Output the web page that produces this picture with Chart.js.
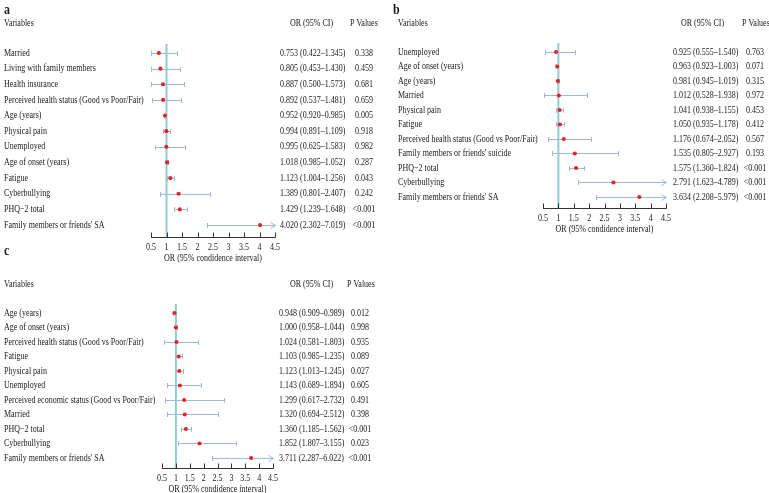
<!DOCTYPE html>
<html>
<head>
<meta charset="utf-8">
<script src="https://cdn.jsdelivr.net/npm/chart.js@4.4.1/dist/chart.umd.min.js"></script>
<style>
  html, body { margin: 0; padding: 0; background: #fff; }
  body { width: 769px; height: 493px; position: relative; overflow: hidden; }
  canvas { position: absolute; }
</style>
</head>
<body>
<canvas id="chartA" width="390" height="263" style="left:0;top:0"></canvas>
<canvas id="chartB" width="379" height="234" style="left:390px;top:0"></canvas>
<canvas id="chartC" width="390" height="253" style="left:0;top:240px"></canvas>
<script>
// shared x axis
const xTicks = [0.5, 1, 1.5, 2, 2.5, 3, 3.5, 4, 4.5]
const xTitle = "OR (95% condidence interval)"

// Panel a
const aVars = ["Married", "Living with family members", "Health insurance", "Perceived health status (Good vs Poor/Fair)", "Age (years)", "Physical pain", "Unemployed", "Age of onset (years)", "Fatigue", "Cyberbullying", "PHQ\u22122 total", "Family members or friends' SA"]
const aOR = [0.753, 0.805, 0.887, 0.892, 0.952, 0.994, 0.995, 1.018, 1.123, 1.389, 1.429, 4.020]
const aLo = [0.422, 0.453, 0.500, 0.537, 0.920, 0.891, 0.625, 0.985, 1.004, 0.801, 1.239, 2.302]
const aHi = [1.345, 1.430, 1.573, 1.481, 0.985, 1.109, 1.583, 1.052, 1.256, 2.407, 1.648, 7.019]
const aP = ["0.338", "0.459", "0.681", "0.659", "0.005", "0.918", "0.982", "0.287", "0.043", "0.242", "<0.001", "<0.001"]

// Panel b
const bVars = ["Unemployed", "Age of onset (years)", "Age (years)", "Married", "Physical pain", "Fatigue", "Perceived health status (Good vs Poor/Fair)", "Family members or friends' suicide", "PHQ\u22122 total", "Cyberbullying", "Family members or friends' SA"]
const bOR = [0.925, 0.963, 0.981, 1.012, 1.041, 1.050, 1.176, 1.535, 1.575, 2.791, 3.634]
const bLo = [0.555, 0.923, 0.945, 0.528, 0.938, 0.935, 0.674, 0.805, 1.360, 1.623, 2.208]
const bHi = [1.540, 1.003, 1.019, 1.938, 1.155, 1.178, 2.052, 2.927, 1.824, 4.789, 5.979]
const bP = ["0.763", "0.071", "0.315", "0.972", "0.453", "0.412", "0.567", "0.193", "<0.001", "<0.001", "<0.001"]

// Panel c
const cVars = ["Age (years)", "Age of onset (years)", "Perceived health status (Good vs Poor/Fair)", "Fatigue", "Physical pain", "Unemployed", "Perceived economic status (Good vs Poor/Fair)", "Married", "PHQ\u22122 total", "Cyberbullying", "Family members or friends' SA"]
const cOR = [0.948, 1.000, 1.024, 1.103, 1.123, 1.143, 1.299, 1.320, 1.360, 1.852, 3.711]
const cLo = [0.909, 0.958, 0.581, 0.985, 1.013, 0.689, 0.617, 0.694, 1.185, 1.087, 2.287]
const cHi = [0.989, 1.044, 1.803, 1.235, 1.245, 1.894, 2.732, 2.512, 1.562, 3.155, 6.022]
const cP = ["0.012", "0.998", "0.935", "0.089", "0.027", "0.605", "0.491", "0.398", "<0.001", "0.023", "<0.001"]
// the printed table shows 1.807 as lower bound for Cyberbullying (the bar is drawn from ~1.09)
const cLoPrinted = cLo.map((v, i) => (i === 9 ? 1.807 : v))

const FONT = "'Liberation Serif', 'Times New Roman', serif"
const TEXT = "#1a1a1a"
const SQUEEZE = 0.8 // the source figure is narrower than its type

const fmt = (v) => v.toFixed(3)

function text(ctx, str, x, y, align) {
  ctx.save()
  ctx.translate(x, y)
  ctx.scale(SQUEEZE, 1)
  ctx.textAlign = align || "left"
  ctx.fillText(str, 0, 0)
  ctx.restore()
}

// draws reference line, whiskers, axis and the text columns
const forestPlugin = {
  id: "forest",
  beforeDatasetsDraw(chart, args, o) {
    const { ctx, chartArea } = chart
    const x = chart.scales.x
    const y = chart.scales.y

    // reference line at OR = 1
    ctx.save()
    ctx.strokeStyle = "#8fcdd3"
    ctx.lineWidth = 2
    ctx.beginPath()
    ctx.moveTo(x.getPixelForValue(1), chartArea.top)
    ctx.lineTo(x.getPixelForValue(1), chartArea.bottom)
    ctx.stroke()

    // confidence intervals
    ctx.strokeStyle = "#9ab9e6"
    ctx.lineWidth = 1
    o.lo.forEach((lo, i) => {
      const py = Math.round(y.getPixelForValue(i)) + 0.5
      const x0 = Math.round(x.getPixelForValue(Math.max(lo, x.min))) + 0.5
      const x1 = Math.round(x.getPixelForValue(Math.min(o.hi[i], x.max))) + 0.5
      ctx.beginPath()
      ctx.moveTo(x0, py)
      ctx.lineTo(x1, py)
      ctx.moveTo(x0, py - 2.5)
      ctx.lineTo(x0, py + 2.5)
      if (o.hi[i] > x.max) {
        ctx.moveTo(x1 - 5, py - 3)
        ctx.lineTo(x1, py)
        ctx.lineTo(x1 - 5, py + 3)
      } else {
        ctx.moveTo(x1, py - 2.5)
        ctx.lineTo(x1, py + 2.5)
      }
      ctx.stroke()
    })

    // axis with upward ticks
    const ay = Math.round(chartArea.bottom) + 0.5
    ctx.strokeStyle = "#333"
    ctx.beginPath()
    ctx.moveTo(chartArea.left, ay)
    ctx.lineTo(chartArea.right + 0.5, ay)
    xTicks.forEach((t) => {
      const px = Math.round(x.getPixelForValue(t)) + 0.5
      ctx.moveTo(px, ay)
      ctx.lineTo(px, ay - 5)
    })
    ctx.stroke()
    ctx.restore()
  },
  afterDraw(chart, args, o) {
    const { ctx, chartArea } = chart
    const x = chart.scales.x
    const y = chart.scales.y
    ctx.save()
    ctx.fillStyle = TEXT

    ctx.font = "bold 15px " + FONT
    ctx.textBaseline = "alphabetic"
    text(ctx, o.letter, o.letterX, o.letterY)

    ctx.font = "10px " + FONT
    ctx.textBaseline = "middle"

    // tick labels and axis title
    xTicks.forEach((t) => {
      text(ctx, String(t), x.getPixelForValue(t), chartArea.bottom + 10, "center")
    })
    text(ctx, xTitle, (chartArea.left + chartArea.right) / 2, chartArea.bottom + 21, "center")

    // headers
    text(ctx, "Variables", o.colVar, o.headY)
    text(ctx, "OR (95% CI)", o.colHeadOR, o.headY)
    text(ctx, "P Values", o.colHeadP, o.headY)

    // rows
    o.vars.forEach((name, i) => {
      const py = y.getPixelForValue(i)
      text(ctx, name, o.colVar, py)
      text(ctx, fmt(o.or[i]) + " (" + fmt(o.loText[i]) + "\u2013" + fmt(o.hi[i]) + ")", o.colOR, py)
      text(ctx, o.p[i], o.colP, py, "center")
    })
    ctx.restore()
  },
}

function makePanel(id, d, layout) {
  return new Chart(document.getElementById(id), {
    type: "scatter",
    data: {
      datasets: [
        {
          data: d.or.map((v, i) => ({ x: v, y: i })),
          backgroundColor: "#e52420",
          borderWidth: 0,
          pointRadius: 2.1,
          pointHoverRadius: 2.1,
        },
      ],
    },
    plugins: [forestPlugin],
    options: {
      responsive: false,
      animation: false,
      events: [],
      layout: { padding: layout.padding },
      plugins: {
        legend: { display: false },
        tooltip: { enabled: false },
        forest: Object.assign({}, d, layout.text),
      },
      scales: {
        x: { type: "linear", display: false, min: 0.5, max: 4.5 },
        y: { type: "linear", display: false, reverse: true, min: layout.yMin, max: layout.yMax },
      },
    },
  })
}

makePanel(
  "chartA",
  { vars: aVars, or: aOR, lo: aLo, hi: aHi, loText: aLo, p: aP },
  {
    padding: { left: 151, right: 115, top: 44, bottom: 26 },
    yMin: -0.575,
    yMax: 11.765,
    text: { letter: "a", letterX: 4, letterY: 14, headY: 23, colVar: 4, colHeadOR: 290, colHeadP: 350, colOR: 280, colP: 364 },
  }
)

makePanel(
  "chartB",
  { vars: bVars, or: bOR, lo: bLo, hi: bHi, loText: bLo, p: bP },
  {
    padding: { left: 153, right: 103, top: 43, bottom: 26 },
    yMin: -0.62,
    yMax: 10.76,
    text: { letter: "b", letterX: 3, letterY: 14, headY: 23, colVar: 8, colHeadOR: 291, colHeadP: 352, colOR: 283, colP: 365 },
  }
)

makePanel(
  "chartC",
  { vars: cVars, or: cOR, lo: cLo, hi: cHi, loText: cLoPrinted, p: cP },
  {
    padding: { left: 162, right: 117, top: 64, bottom: 25 },
    yMin: -0.62,
    yMax: 10.69,
    text: { letter: "c", letterX: 4, letterY: 15, headY: 44, colVar: 4, colHeadOR: 290, colHeadP: 347, colOR: 279, colP: 360 },
  }
)
</script>
</body>
</html>
